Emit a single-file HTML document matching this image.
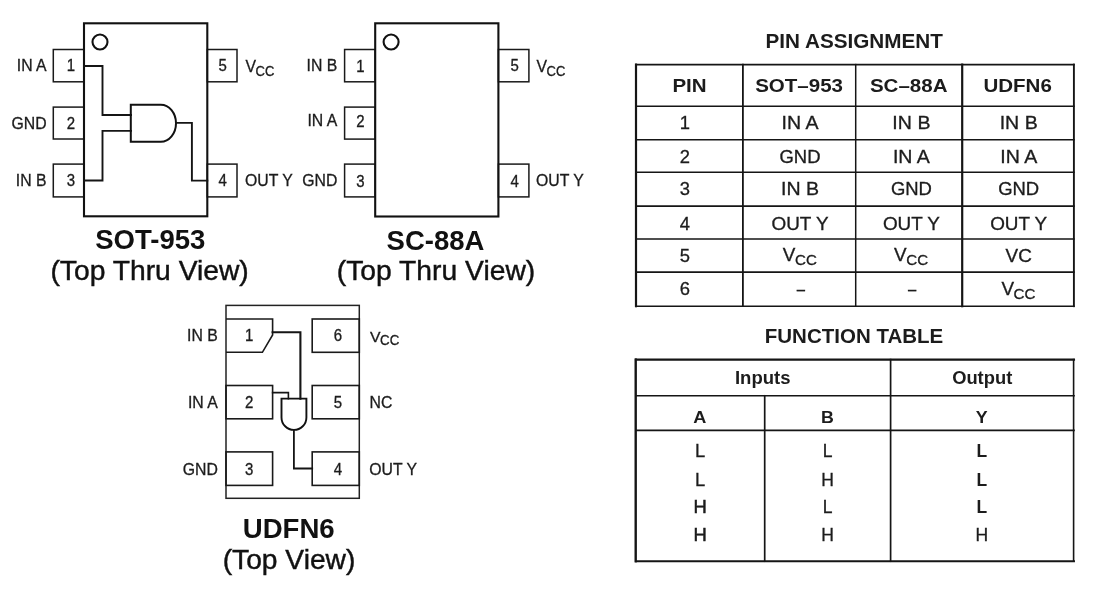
<!DOCTYPE html>
<html><head><meta charset="utf-8"><title>Pin Assignment</title>
<style>
html,body{margin:0;padding:0;background:#fff;}
body{width:1100px;height:589px;overflow:hidden;font-family:"Liberation Sans",sans-serif;}
svg{display:block;font-family:"Liberation Sans",sans-serif;will-change:transform;opacity:0.999;filter:blur(0.45px);}
</style></head><body>
<svg width="1100" height="589" viewBox="0 0 1100 589">
<rect width="1100" height="589" fill="#fff"/>
<rect x="53.3" y="49.5" width="30.7" height="32.3" fill="none" stroke="#1a1a1a" stroke-width="1.5"/>
<text transform="translate(71.0 71.0) scale(1.0 1.1)" font-size="15" text-anchor="middle" fill="#1c1c1c" stroke="#1c1c1c" stroke-width="0.3">1</text>
<text transform="translate(46.6 71.0) scale(1.0 1.07)" font-size="15.8" text-anchor="end" fill="#1c1c1c" stroke="#1c1c1c" stroke-width="0.3">IN A</text>
<rect x="53.3" y="107.1" width="30.7" height="31.9" fill="none" stroke="#1a1a1a" stroke-width="1.5"/>
<text transform="translate(71.0 128.6) scale(1.0 1.1)" font-size="15" text-anchor="middle" fill="#1c1c1c" stroke="#1c1c1c" stroke-width="0.3">2</text>
<text transform="translate(46.6 128.6) scale(1.0 1.07)" font-size="15.8" text-anchor="end" fill="#1c1c1c" stroke="#1c1c1c" stroke-width="0.3">GND</text>
<rect x="53.3" y="164.1" width="30.7" height="32.8" fill="none" stroke="#1a1a1a" stroke-width="1.5"/>
<text transform="translate(71.0 186.1) scale(1.0 1.1)" font-size="15" text-anchor="middle" fill="#1c1c1c" stroke="#1c1c1c" stroke-width="0.3">3</text>
<text transform="translate(46.6 186.1) scale(1.0 1.07)" font-size="15.8" text-anchor="end" fill="#1c1c1c" stroke="#1c1c1c" stroke-width="0.3">IN B</text>
<rect x="207.3" y="49.5" width="29.7" height="32.3" fill="none" stroke="#1a1a1a" stroke-width="1.5"/>
<text transform="translate(222.6 71.3) scale(1.0 1.1)" font-size="15" text-anchor="middle" fill="#1c1c1c" stroke="#1c1c1c" stroke-width="0.3">5</text>
<rect x="207.3" y="164.1" width="29.7" height="32.8" fill="none" stroke="#1a1a1a" stroke-width="1.5"/>
<text transform="translate(222.6 186.4) scale(1.0 1.1)" font-size="15" text-anchor="middle" fill="#1c1c1c" stroke="#1c1c1c" stroke-width="0.3">4</text>
<text transform="translate(245.4 71.6) scale(1.0 1.07)" font-size="15.8" fill="#1c1c1c" stroke="#1c1c1c" stroke-width="0.3">V</text>
<text transform="translate(255.5 75.5) scale(1.0 1.1449)" font-size="13.0" fill="#1c1c1c" stroke="#1c1c1c" stroke-width="0.3">CC</text>
<text transform="translate(245.0 186.1) scale(1.0 1.07)" font-size="15.8" text-anchor="start" fill="#1c1c1c" stroke="#1c1c1c" stroke-width="0.3">OUT Y</text>
<rect x="84.0" y="23.3" width="123.3" height="193.0" fill="none" stroke="#111" stroke-width="2.1"/>
<circle cx="100.0" cy="42.0" r="7.5" fill="none" stroke="#111" stroke-width="2.1"/>
<path d="M84.0 66.0 L102.5 66.0 L102.5 115.0 L131.0 115.0" fill="none" stroke="#151515" stroke-width="1.9" stroke-linejoin="miter" stroke-linecap="square"/>
<path d="M84.0 180.5 L102.5 180.5 L102.5 130.9 L131.0 130.9" fill="none" stroke="#151515" stroke-width="1.9" stroke-linejoin="miter" stroke-linecap="square"/>
<path d="M130.8 104.7 H160.8 A15.2 18.55 0 0 1 160.8 141.8 H130.8 Z" fill="none" stroke="#111" stroke-width="2"/>
<path d="M176.0 122.9 L191.9 122.9 L191.9 180.6 L207.3 180.6" fill="none" stroke="#151515" stroke-width="1.9" stroke-linejoin="miter" stroke-linecap="square"/>
<text transform="translate(150.3 249.4) scale(1.0 1.09)" font-size="25.5" text-anchor="middle" font-weight="700" textLength="110.2" lengthAdjust="spacingAndGlyphs" fill="#111" stroke="#111" stroke-width="0">SOT-953</text>
<text transform="translate(149.6 280.0) scale(1.0 1.06)" font-size="26" text-anchor="middle" textLength="198.3" lengthAdjust="spacingAndGlyphs" fill="#111" stroke="#111" stroke-width="0.4">(Top Thru View)</text>
<rect x="344.6" y="49.5" width="30.6" height="32.3" fill="none" stroke="#1a1a1a" stroke-width="1.5"/>
<text transform="translate(360.5 71.6) scale(1.0 1.1)" font-size="15" text-anchor="middle" fill="#1c1c1c" stroke="#1c1c1c" stroke-width="0.3">1</text>
<text transform="translate(337.3 71.4) scale(1.0 1.07)" font-size="15.8" text-anchor="end" fill="#1c1c1c" stroke="#1c1c1c" stroke-width="0.3">IN B</text>
<rect x="344.6" y="107.1" width="30.6" height="32.0" fill="none" stroke="#1a1a1a" stroke-width="1.5"/>
<text transform="translate(360.5 127.1) scale(1.0 1.1)" font-size="15" text-anchor="middle" fill="#1c1c1c" stroke="#1c1c1c" stroke-width="0.3">2</text>
<text transform="translate(337.3 126.2) scale(1.0 1.07)" font-size="15.8" text-anchor="end" fill="#1c1c1c" stroke="#1c1c1c" stroke-width="0.3">IN A</text>
<rect x="344.6" y="164.1" width="30.6" height="32.8" fill="none" stroke="#1a1a1a" stroke-width="1.5"/>
<text transform="translate(360.5 186.5) scale(1.0 1.1)" font-size="15" text-anchor="middle" fill="#1c1c1c" stroke="#1c1c1c" stroke-width="0.3">3</text>
<text transform="translate(337.3 186.3) scale(1.0 1.07)" font-size="15.8" text-anchor="end" fill="#1c1c1c" stroke="#1c1c1c" stroke-width="0.3">GND</text>
<rect x="498.4" y="49.5" width="30.5" height="32.3" fill="none" stroke="#1a1a1a" stroke-width="1.5"/>
<text transform="translate(514.6 71.4) scale(1.0 1.1)" font-size="15" text-anchor="middle" fill="#1c1c1c" stroke="#1c1c1c" stroke-width="0.3">5</text>
<rect x="498.4" y="164.1" width="30.5" height="32.8" fill="none" stroke="#1a1a1a" stroke-width="1.5"/>
<text transform="translate(514.6 186.5) scale(1.0 1.1)" font-size="15" text-anchor="middle" fill="#1c1c1c" stroke="#1c1c1c" stroke-width="0.3">4</text>
<text transform="translate(536.5 71.6) scale(1.0 1.07)" font-size="15.8" fill="#1c1c1c" stroke="#1c1c1c" stroke-width="0.3">V</text>
<text transform="translate(546.6 75.5) scale(1.0 1.1449)" font-size="13.0" fill="#1c1c1c" stroke="#1c1c1c" stroke-width="0.3">CC</text>
<text transform="translate(536.0 186.1) scale(1.0 1.07)" font-size="15.8" text-anchor="start" fill="#1c1c1c" stroke="#1c1c1c" stroke-width="0.3">OUT Y</text>
<rect x="375.2" y="23.3" width="123.2" height="193.2" fill="none" stroke="#111" stroke-width="2.1"/>
<circle cx="391.1" cy="42.0" r="7.5" fill="none" stroke="#111" stroke-width="2.1"/>
<text transform="translate(435.5 249.6) scale(1.0 1.09)" font-size="25.5" text-anchor="middle" font-weight="700" textLength="97.8" lengthAdjust="spacingAndGlyphs" fill="#111" stroke="#111" stroke-width="0">SC-88A</text>
<text transform="translate(436.0 280.3) scale(1.0 1.06)" font-size="26" text-anchor="middle" textLength="198.4" lengthAdjust="spacingAndGlyphs" fill="#111" stroke="#111" stroke-width="0.4">(Top Thru View)</text>
<rect x="226.0" y="305.4" width="133.3" height="192.9" fill="none" stroke="#222" stroke-width="1.5"/>
<path d="M226 319 H272.6 V335 L262.4 352.3 H226" fill="none" stroke="#1a1a1a" stroke-width="1.6"/>
<rect x="226.0" y="385.5" width="46.6" height="33.3" fill="none" stroke="#1a1a1a" stroke-width="1.6"/>
<rect x="226.0" y="451.9" width="46.6" height="33.5" fill="none" stroke="#1a1a1a" stroke-width="1.6"/>
<rect x="312.2" y="319.0" width="47.1" height="33.3" fill="none" stroke="#1a1a1a" stroke-width="1.6"/>
<rect x="312.2" y="385.5" width="47.1" height="33.3" fill="none" stroke="#1a1a1a" stroke-width="1.6"/>
<rect x="312.2" y="451.9" width="47.1" height="33.5" fill="none" stroke="#1a1a1a" stroke-width="1.6"/>
<text transform="translate(249.2 341.0) scale(1.0 1.13)" font-size="15" text-anchor="middle" fill="#1c1c1c" stroke="#1c1c1c" stroke-width="0.3">1</text>
<text transform="translate(249.2 407.9) scale(1.0 1.13)" font-size="15" text-anchor="middle" fill="#1c1c1c" stroke="#1c1c1c" stroke-width="0.3">2</text>
<text transform="translate(249.2 475.1) scale(1.0 1.13)" font-size="15" text-anchor="middle" fill="#1c1c1c" stroke="#1c1c1c" stroke-width="0.3">3</text>
<text transform="translate(337.8 341.0) scale(1.0 1.13)" font-size="15" text-anchor="middle" fill="#1c1c1c" stroke="#1c1c1c" stroke-width="0.3">6</text>
<text transform="translate(337.8 407.9) scale(1.0 1.13)" font-size="15" text-anchor="middle" fill="#1c1c1c" stroke="#1c1c1c" stroke-width="0.3">5</text>
<text transform="translate(337.8 475.1) scale(1.0 1.13)" font-size="15" text-anchor="middle" fill="#1c1c1c" stroke="#1c1c1c" stroke-width="0.3">4</text>
<text transform="translate(217.8 340.9) scale(1.0 1.0)" font-size="15.8" text-anchor="end" fill="#1c1c1c" stroke="#1c1c1c" stroke-width="0.3">IN B</text>
<text transform="translate(217.8 407.8) scale(1.0 1.0)" font-size="15.8" text-anchor="end" fill="#1c1c1c" stroke="#1c1c1c" stroke-width="0.3">IN A</text>
<text transform="translate(217.8 475.0) scale(1.0 1.0)" font-size="15.8" text-anchor="end" fill="#1c1c1c" stroke="#1c1c1c" stroke-width="0.3">GND</text>
<text transform="translate(370.0 341.9) scale(1.0 0.97)" font-size="15.8" fill="#1c1c1c" stroke="#1c1c1c" stroke-width="0.3">V</text>
<text transform="translate(380.1 344.7) scale(1.0 1.08)" font-size="13.3" fill="#1c1c1c" stroke="#1c1c1c" stroke-width="0.3">CC</text>
<text transform="translate(369.5 407.8) scale(1.0 1.0)" font-size="15.8" text-anchor="start" fill="#1c1c1c" stroke="#1c1c1c" stroke-width="0.3">NC</text>
<text transform="translate(369.3 475.0) scale(1.0 1.0)" font-size="15.8" text-anchor="start" fill="#1c1c1c" stroke="#1c1c1c" stroke-width="0.3">OUT Y</text>
<path d="M272.6 332.3 L300.4 332.3 L300.4 398.6" fill="none" stroke="#151515" stroke-width="2.1" stroke-linejoin="miter" stroke-linecap="square"/>
<path d="M272.6 392.6 L288.4 392.6 L288.4 398.6" fill="none" stroke="#151515" stroke-width="1.6" stroke-linejoin="miter" stroke-linecap="square"/>
<path d="M281.5 398.6 H306.4 V417.4 A12.45 12.5 0 0 1 281.5 417.4 Z" fill="none" stroke="#111" stroke-width="1.9"/>
<path d="M293.9 429.9 L293.9 468.5 L312.2 468.5" fill="none" stroke="#151515" stroke-width="1.8" stroke-linejoin="miter" stroke-linecap="square"/>
<text transform="translate(288.7 538.3) scale(1.0 1.09)" font-size="25.5" text-anchor="middle" font-weight="700" textLength="92.0" lengthAdjust="spacingAndGlyphs" fill="#111" stroke="#111" stroke-width="0">UDFN6</text>
<text transform="translate(289.0 568.9) scale(1.0 1.07)" font-size="26" text-anchor="middle" textLength="132.7" lengthAdjust="spacingAndGlyphs" fill="#111" stroke="#111" stroke-width="0.4">(Top View)</text>
<text transform="translate(854.2 48.0) scale(1.0 1.03)" font-size="20" text-anchor="middle" font-weight="700" textLength="177.5" lengthAdjust="spacingAndGlyphs" fill="#1c1c1c" stroke="#1c1c1c" stroke-width="0">PIN ASSIGNMENT</text>
<path d="M636.0 64.6 L1073.9 64.6" fill="none" stroke="#151515" stroke-width="1.6" stroke-linejoin="miter" stroke-linecap="square"/>
<path d="M636.0 106.3 L1073.9 106.3" fill="none" stroke="#151515" stroke-width="1.6" stroke-linejoin="miter" stroke-linecap="square"/>
<path d="M636.0 139.7 L1073.9 139.7" fill="none" stroke="#151515" stroke-width="1.6" stroke-linejoin="miter" stroke-linecap="square"/>
<path d="M636.0 172.3 L1073.9 172.3" fill="none" stroke="#151515" stroke-width="1.6" stroke-linejoin="miter" stroke-linecap="square"/>
<path d="M636.0 206.1 L1073.9 206.1" fill="none" stroke="#151515" stroke-width="1.6" stroke-linejoin="miter" stroke-linecap="square"/>
<path d="M636.0 239.0 L1073.9 239.0" fill="none" stroke="#151515" stroke-width="1.6" stroke-linejoin="miter" stroke-linecap="square"/>
<path d="M636.0 272.1 L1073.9 272.1" fill="none" stroke="#151515" stroke-width="1.6" stroke-linejoin="miter" stroke-linecap="square"/>
<path d="M636.0 306.2 L1073.9 306.2" fill="none" stroke="#151515" stroke-width="1.6" stroke-linejoin="miter" stroke-linecap="square"/>
<path d="M636.0 64.6 L636.0 306.2" fill="none" stroke="#151515" stroke-width="2.2" stroke-linejoin="miter" stroke-linecap="square"/>
<path d="M742.9 64.6 L742.9 306.2" fill="none" stroke="#151515" stroke-width="1.8" stroke-linejoin="miter" stroke-linecap="square"/>
<path d="M855.7 64.6 L855.7 306.2" fill="none" stroke="#151515" stroke-width="1.5" stroke-linejoin="miter" stroke-linecap="square"/>
<path d="M962.2 64.6 L962.2 306.2" fill="none" stroke="#151515" stroke-width="2.2" stroke-linejoin="miter" stroke-linecap="square"/>
<path d="M1073.9 64.6 L1073.9 306.2" fill="none" stroke="#151515" stroke-width="1.9" stroke-linejoin="miter" stroke-linecap="square"/>
<text transform="translate(689.5 92.2) scale(1.11 1.0)" font-size="18.5" text-anchor="middle" font-weight="700" fill="#1c1c1c" stroke="#1c1c1c" stroke-width="0">PIN</text>
<text transform="translate(799.1 92.2) scale(1.11 1.0)" font-size="18.5" text-anchor="middle" font-weight="700" fill="#1c1c1c" stroke="#1c1c1c" stroke-width="0">SOT&#8211;953</text>
<text transform="translate(908.7 92.2) scale(1.11 1.0)" font-size="18.5" text-anchor="middle" font-weight="700" fill="#1c1c1c" stroke="#1c1c1c" stroke-width="0">SC&#8211;88A</text>
<text transform="translate(1017.6 92.2) scale(1.11 1.0)" font-size="18.5" text-anchor="middle" font-weight="700" fill="#1c1c1c" stroke="#1c1c1c" stroke-width="0">UDFN6</text>
<text transform="translate(684.9 129.0) scale(1.05 1.0)" font-size="17.5" text-anchor="middle" fill="#1c1c1c" stroke="#1c1c1c" stroke-width="0.3">1</text>
<text transform="translate(800.0 129.0) scale(1.12 1.0)" font-size="17.5" text-anchor="middle" fill="#1c1c1c" stroke="#1c1c1c" stroke-width="0.3">IN A</text>
<text transform="translate(911.4 129.0) scale(1.12 1.0)" font-size="17.5" text-anchor="middle" fill="#1c1c1c" stroke="#1c1c1c" stroke-width="0.3">IN B</text>
<text transform="translate(1018.7 129.0) scale(1.12 1.0)" font-size="17.5" text-anchor="middle" fill="#1c1c1c" stroke="#1c1c1c" stroke-width="0.3">IN B</text>
<text transform="translate(684.9 162.8) scale(1.05 1.0)" font-size="17.5" text-anchor="middle" fill="#1c1c1c" stroke="#1c1c1c" stroke-width="0.3">2</text>
<text transform="translate(800.0 162.8) scale(1.055 1.0)" font-size="17.5" text-anchor="middle" fill="#1c1c1c" stroke="#1c1c1c" stroke-width="0.3">GND</text>
<text transform="translate(911.4 162.8) scale(1.12 1.0)" font-size="17.5" text-anchor="middle" fill="#1c1c1c" stroke="#1c1c1c" stroke-width="0.3">IN A</text>
<text transform="translate(1018.7 162.8) scale(1.12 1.0)" font-size="17.5" text-anchor="middle" fill="#1c1c1c" stroke="#1c1c1c" stroke-width="0.3">IN A</text>
<text transform="translate(684.9 195.2) scale(1.05 1.0)" font-size="17.5" text-anchor="middle" fill="#1c1c1c" stroke="#1c1c1c" stroke-width="0.3">3</text>
<text transform="translate(800.0 195.2) scale(1.12 1.0)" font-size="17.5" text-anchor="middle" fill="#1c1c1c" stroke="#1c1c1c" stroke-width="0.3">IN B</text>
<text transform="translate(911.4 195.2) scale(1.055 1.0)" font-size="17.5" text-anchor="middle" fill="#1c1c1c" stroke="#1c1c1c" stroke-width="0.3">GND</text>
<text transform="translate(1018.7 195.2) scale(1.055 1.0)" font-size="17.5" text-anchor="middle" fill="#1c1c1c" stroke="#1c1c1c" stroke-width="0.3">GND</text>
<text transform="translate(684.9 230.0) scale(1.05 1.0)" font-size="17.5" text-anchor="middle" fill="#1c1c1c" stroke="#1c1c1c" stroke-width="0.3">4</text>
<text transform="translate(800.0 230.0) scale(1.08 1.0)" font-size="17.5" text-anchor="middle" fill="#1c1c1c" stroke="#1c1c1c" stroke-width="0.3">OUT Y</text>
<text transform="translate(911.4 230.0) scale(1.08 1.0)" font-size="17.5" text-anchor="middle" fill="#1c1c1c" stroke="#1c1c1c" stroke-width="0.3">OUT Y</text>
<text transform="translate(1018.7 230.0) scale(1.08 1.0)" font-size="17.5" text-anchor="middle" fill="#1c1c1c" stroke="#1c1c1c" stroke-width="0.3">OUT Y</text>
<text transform="translate(684.9 261.9) scale(1.05 1.0)" font-size="17.5" text-anchor="middle" fill="#1c1c1c" stroke="#1c1c1c" stroke-width="0.3">5</text>
<text transform="translate(782.8 261.4) scale(1.08 1.0)" font-size="17.5" fill="#1c1c1c" stroke="#1c1c1c" stroke-width="0.3">V</text>
<text transform="translate(795.0 265.4) scale(1.08 1.07)" font-size="14" fill="#1c1c1c" stroke="#1c1c1c" stroke-width="0.3">CC</text>
<text transform="translate(894.1 261.4) scale(1.08 1.0)" font-size="17.5" fill="#1c1c1c" stroke="#1c1c1c" stroke-width="0.3">V</text>
<text transform="translate(906.3 265.4) scale(1.08 1.07)" font-size="14" fill="#1c1c1c" stroke="#1c1c1c" stroke-width="0.3">CC</text>
<text transform="translate(1018.7 261.9) scale(1.08 1.0)" font-size="17.5" text-anchor="middle" fill="#1c1c1c" stroke="#1c1c1c" stroke-width="0.3">VC</text>
<text transform="translate(684.9 295.0) scale(1.05 1.0)" font-size="17.5" text-anchor="middle" fill="#1c1c1c" stroke="#1c1c1c" stroke-width="0.3">6</text>
<text transform="translate(800.9 295.0) scale(0.85 1.0)" font-size="17.5" text-anchor="middle" fill="#1c1c1c" stroke="#1c1c1c" stroke-width="0.3">&#8211;</text>
<text transform="translate(912.2 295.0) scale(0.85 1.0)" font-size="17.5" text-anchor="middle" fill="#1c1c1c" stroke="#1c1c1c" stroke-width="0.3">&#8211;</text>
<text transform="translate(1001.4 294.5) scale(1.08 1.0)" font-size="17.5" fill="#1c1c1c" stroke="#1c1c1c" stroke-width="0.3">V</text>
<text transform="translate(1013.6 298.5) scale(1.08 1.07)" font-size="14" fill="#1c1c1c" stroke="#1c1c1c" stroke-width="0.3">CC</text>
<text transform="translate(854.0 343.0) scale(1.0 1.02)" font-size="20" text-anchor="middle" font-weight="700" textLength="178.5" lengthAdjust="spacingAndGlyphs" fill="#1c1c1c" stroke="#1c1c1c" stroke-width="0">FUNCTION TABLE</text>
<path d="M636.0 359.6 L1074.0 359.6" fill="none" stroke="#151515" stroke-width="2.1" stroke-linejoin="miter" stroke-linecap="square"/>
<path d="M636.0 395.8 L1074.0 395.8" fill="none" stroke="#151515" stroke-width="1.6" stroke-linejoin="miter" stroke-linecap="square"/>
<path d="M636.0 430.4 L1074.0 430.4" fill="none" stroke="#151515" stroke-width="1.6" stroke-linejoin="miter" stroke-linecap="square"/>
<path d="M636.0 561.2 L1074.0 561.2" fill="none" stroke="#151515" stroke-width="1.9" stroke-linejoin="miter" stroke-linecap="square"/>
<path d="M635.7 359.6 L635.7 561.2" fill="none" stroke="#151515" stroke-width="2.4" stroke-linejoin="miter" stroke-linecap="square"/>
<path d="M1073.6 359.6 L1073.6 561.2" fill="none" stroke="#151515" stroke-width="1.6" stroke-linejoin="miter" stroke-linecap="square"/>
<path d="M890.6 359.6 L890.6 561.2" fill="none" stroke="#151515" stroke-width="1.7" stroke-linejoin="miter" stroke-linecap="square"/>
<path d="M764.7 395.8 L764.7 561.2" fill="none" stroke="#151515" stroke-width="1.7" stroke-linejoin="miter" stroke-linecap="square"/>
<text transform="translate(762.7 384.3) scale(1.03 1.0)" font-size="18" text-anchor="middle" font-weight="700" fill="#1c1c1c" stroke="#1c1c1c" stroke-width="0">Inputs</text>
<text transform="translate(982.2 384.3) scale(1.02 1.0)" font-size="18" text-anchor="middle" font-weight="700" fill="#1c1c1c" stroke="#1c1c1c" stroke-width="0">Output</text>
<text transform="translate(699.9 422.5) scale(1.1 1.0)" font-size="16.5" text-anchor="middle" font-weight="700" fill="#1c1c1c" stroke="#1c1c1c" stroke-width="0">A</text>
<text transform="translate(827.5 422.5) scale(1.08 1.0)" font-size="16.5" text-anchor="middle" font-weight="700" fill="#1c1c1c" stroke="#1c1c1c" stroke-width="0">B</text>
<text transform="translate(981.8 422.5) scale(1.08 1.0)" font-size="16.5" text-anchor="middle" font-weight="700" fill="#1c1c1c" stroke="#1c1c1c" stroke-width="0">Y</text>
<text transform="translate(700.0 457.3) scale(1.08 1.05)" font-size="17" text-anchor="middle" fill="#1c1c1c" stroke="#1c1c1c" stroke-width="0.3">L</text>
<text transform="translate(827.6 457.3) scale(1.03 1.05)" font-size="17" text-anchor="middle" fill="#1c1c1c" stroke="#1c1c1c" stroke-width="0.3">L</text>
<text transform="translate(981.8 457.3) scale(1.03 1.05)" font-size="17" text-anchor="middle" font-weight="700" fill="#1c1c1c" stroke="#1c1c1c" stroke-width="0">L</text>
<text transform="translate(700.0 486.0) scale(1.08 1.05)" font-size="17" text-anchor="middle" fill="#1c1c1c" stroke="#1c1c1c" stroke-width="0.3">L</text>
<text transform="translate(827.6 486.0) scale(1.03 1.05)" font-size="17" text-anchor="middle" fill="#1c1c1c" stroke="#1c1c1c" stroke-width="0.3">H</text>
<text transform="translate(981.8 486.0) scale(1.03 1.05)" font-size="17" text-anchor="middle" font-weight="700" fill="#1c1c1c" stroke="#1c1c1c" stroke-width="0">L</text>
<text transform="translate(700.0 512.8) scale(1.08 1.05)" font-size="17" text-anchor="middle" fill="#1c1c1c" stroke="#1c1c1c" stroke-width="0.5">H</text>
<text transform="translate(827.6 512.8) scale(1.03 1.05)" font-size="17" text-anchor="middle" fill="#1c1c1c" stroke="#1c1c1c" stroke-width="0.3">L</text>
<text transform="translate(981.8 512.8) scale(1.03 1.05)" font-size="17" text-anchor="middle" font-weight="700" fill="#1c1c1c" stroke="#1c1c1c" stroke-width="0">L</text>
<text transform="translate(700.0 540.7) scale(1.08 1.05)" font-size="17" text-anchor="middle" fill="#1c1c1c" stroke="#1c1c1c" stroke-width="0.5">H</text>
<text transform="translate(827.6 540.7) scale(1.03 1.05)" font-size="17" text-anchor="middle" fill="#1c1c1c" stroke="#1c1c1c" stroke-width="0.3">H</text>
<text transform="translate(981.8 540.7) scale(1.03 1.05)" font-size="17" text-anchor="middle" fill="#1c1c1c" stroke="#1c1c1c" stroke-width="0.3">H</text>
</svg>
</body></html>
